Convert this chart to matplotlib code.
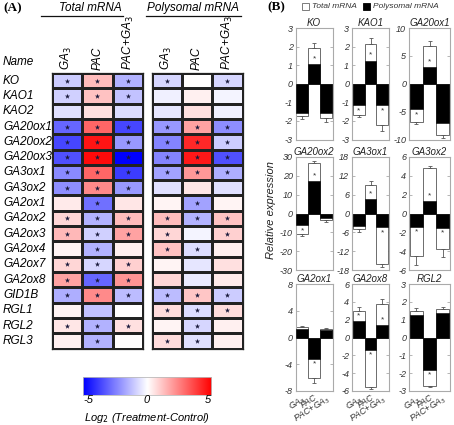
import matplotlib
matplotlib.use('Agg')
import matplotlib.pyplot as plt
from matplotlib.lines import Line2D
from matplotlib.patches import Rectangle
import numpy as np

# ---------------- data: heatmap (log2 treatment-control) ----------------
genes = ['KO', 'KAO1', 'KAO2', 'GA20ox1', 'GA20ox2', 'GA20ox3', 'GA3ox1', 'GA3ox2',
         'GA2ox1', 'GA2ox2', 'GA2ox3', 'GA2ox4', 'GA2ox7', 'GA2ox8', 'GID1B',
         'RGL1', 'RGL2', 'RGL3']
treatments = ['GA$_3$', 'PAC', 'PAC+GA$_3$']

total_log2 = [
    [-1.0, 1.3, -1.5], [-0.9, 1.2, -1.2], [-0.6, 0.6, -0.7], [-3.0, 3.0, -3.6],
    [-3.6, 4.6, -2.0], [-3.4, 4.8, -5.0], [-2.3, 3.0, -3.8], [-2.2, 2.3, -2.0],
    [0.4, -2.8, 0.5], [0.8, -1.5, 1.3], [1.4, -0.9, 1.8], [0.2, -1.5, 0.3],
    [0.8, -0.8, 0.9], [1.8, -3.0, 2.1], [-1.6, 2.3, -1.3], [0.2, -1.2, 0.0],
    [0.5, -1.5, 0.6], [0.3, -1.5, 0.0]]
poly_log2 = [
    [-0.8, 0.0, -0.8], [-0.3, 0.3, -0.2], [-0.5, 0.6, -0.3], [-2.0, 1.8, -2.2],
    [-2.4, 4.2, -1.0], [-2.4, 4.5, -3.4], [-1.8, 2.0, -1.6], [-0.6, 0.5, -0.6],
    [0.2, -1.8, 0.2], [1.3, -1.5, 1.2], [0.8, -0.2, 0.9], [1.2, -0.7, 0.3],
    [0.2, -0.5, 0.6], [0.8, -0.4, 0.4], [-1.3, 1.1, -1.0], [0.7, -0.7, 0.7],
    [0.2, -0.8, 0.3], [0.7, -0.6, 0.3]]
total_sig = [
    [1, 1, 1], [1, 1, 1], [0, 0, 0], [1, 1, 1], [1, 1, 1], [1, 1, 1], [1, 1, 1], [1, 1, 1],
    [0, 1, 0], [1, 1, 1], [1, 1, 1], [0, 1, 0], [1, 1, 1], [1, 1, 1], [1, 1, 1], [0, 0, 0],
    [1, 1, 1], [0, 1, 0]]
poly_sig = [
    [1, 0, 1], [0, 0, 0], [0, 0, 0], [1, 1, 1], [1, 1, 1], [1, 1, 1], [1, 1, 1], [0, 0, 0],
    [0, 1, 0], [1, 1, 1], [1, 0, 1], [1, 1, 0], [0, 0, 0], [0, 0, 0], [1, 1, 1], [1, 1, 1],
    [0, 1, 0], [1, 1, 0]]

# ---------------- data: bar plots (relative expression) ----------------
bar_genes = ['KO', 'KAO1', 'GA20ox1', 'GA20ox2', 'GA3ox1', 'GA3ox2', 'GA2ox1', 'GA2ox8', 'RGL2']
bar_total = [[-1.75, 1.95, -1.85], [-1.7, 2.15, -2.2], [-6.8, 6.8, -9.2],
             [-11.0, 27.0, -3.5], [-5.0, 9.0, -16.0], [-4.5, 4.8, -3.8],
             [1.5, -6.0, 1.3], [3.0, -5.6, 3.8], [1.5, -2.7, 1.6]]
bar_total_err = [[0.15, 0.25, 0.2], [0.1, 0.3, 0.35], [0.5, 0.8, 0.6],
                 [1.0, 1.0, 1.0], [0.8, 1.2, 1.0], [1.0, 0.25, 0.8],
                 [0.15, 0.8, 0.1], [0.4, 0.2, 0.5], [0.15, 0.1, 0.1]]
bar_poly = [[-1.6, 1.05, -1.6], [-1.15, 1.25, -1.15], [-4.6, 3.0, -7.0],
            [-6.0, 17.0, -2.5], [-4.0, 4.5, -4.3], [-1.4, 1.3, -1.5],
            [1.2, -3.2, 1.1], [1.8, -1.4, 1.4], [1.25, -1.8, 1.35]]
bar_sig = [[0, 1, 0], [1, 1, 1], [1, 1, 0], [1, 1, 0], [0, 1, 1], [1, 1, 1],
           [0, 1, 0], [1, 1, 1], [0, 1, 0]]
bar_ylim = [3, 3, 10, 30, 18, 6, 8, 6, 3]
bar_tickstep = [1, 1, 5, 10, 6, 2, 4, 2, 1]

# ---------------- figure ----------------
W, H = 454, 425
fig = plt.figure(figsize=(W / 100, H / 100), dpi=100)
plt.rcParams['font.family'] = ['Liberation Sans', 'DejaVu Sans']


def px(x0, y0, x1, y1):
    return [x0 / W, 1 - y1 / H, (x1 - x0) / W, (y1 - y0) / H]


fs = 8.5
groups = [(total_log2, total_sig, 51.5, 143.5), (poly_log2, poly_sig, 151.5, 242.5)]
for gi, (vals, sig, x0, x1) in enumerate(groups):
    ax = fig.add_axes(px(x0, 73, x1, 348.5))
    data = np.array(vals)
    ax.pcolormesh(np.arange(4), np.arange(len(genes) + 1), data, cmap='bwr',
                  vmin=-5, vmax=5, edgecolors='#222222', linewidth=0.9)
    ax.set_xlim(0, 3)
    ax.set_ylim(len(genes), 0)
    ax.set_xticks([])
    ax.set_yticks([])
    for s in ax.spines.values():
        s.set_color('#222222')
        s.set_linewidth(0.9)
    sg = np.array(sig)
    rr, cc = np.nonzero(sg)
    ax.scatter(cc + 0.5, rr + 0.5, marker='*', s=16, color='#1a1a3c', linewidths=0, zorder=3)
    for j, t in enumerate(treatments):
        ax.text(j + 0.5, -0.2, t, rotation=90, ha='center', va='bottom',
                fontsize=fs, style='italic', clip_on=False)
    if gi == 0:
        ux = (x1 - x0) / 3.0
        for i, g in enumerate(genes):
            ax.text(-(x0 - 3) / ux, i + 0.5, g, ha='left', va='center', fontsize=fs,
                    style='italic', clip_on=False)
        ax.text(-(x0 - 3) / ux, -0.75, 'Name', ha='left', va='center', fontsize=fs,
                style='italic', clip_on=False)

fig.text(90 / W, 1 - 8 / H, 'Total mRNA', ha='center', va='center', fontsize=fs, style='italic')
fig.text(193 / W, 1 - 8 / H, 'Polysomal mRNA', ha='center', va='center', fontsize=fs, style='italic')
fig.add_artist(Line2D([41 / W, 123 / W], [1 - 16 / H] * 2, color='#111111', lw=0.9))
fig.add_artist(Line2D([146 / W, 241 / W], [1 - 16 / H] * 2, color='#111111', lw=0.9))
fig.text(3 / W, 1 - 8 / H, '(A)', ha='left', va='center', fontsize=9.5, fontweight='bold',
         family='Liberation Serif')

# colorbar
cax = fig.add_axes(px(83, 377, 211, 395))
grad = np.linspace(-5, 5, 256).reshape(1, -1)
cax.imshow(grad, aspect='auto', cmap='bwr', vmin=-5, vmax=5, extent=[-5, 5, 0, 1])
cax.set_xticks([])
cax.set_yticks([])
for s in cax.spines.values():
    s.set_color('#bbbbbb')
    s.set_linewidth(0.6)
for xx, lab, ha in [(0.0, '-5', 'left'), (0.5, '0', 'center'), (1.0, '5', 'right')]:
    cax.text(xx, -0.02, lab, transform=cax.transAxes, ha=ha, va='top', fontsize=8,
             style='italic')
fig.text(147 / W, 1 - 418 / H, 'Log$_2$ (Treatment-Control)', ha='center', va='center',
         fontsize=8, style='italic')

# ---------------- bar plots ----------------
cols = [(295.5, 333), (352, 389), (409, 450)]
rows = [(28, 139.5), (157, 270), (284, 391)]
tcol = '#333333'
for k, g in enumerate(bar_genes):
    r, c = divmod(k, 3)
    ax = fig.add_axes(px(cols[c][0], rows[r][0], cols[c][1], rows[r][1]))
    x = np.arange(3)
    tot = np.array(bar_total[k])
    err = np.array(bar_total_err[k])
    pol = np.array(bar_poly[k])
    lo = np.where(tot < 0, err, 0)
    hi = np.where(tot > 0, err, 0)
    ax.bar(x, tot, width=1.0, color='white', edgecolor='#555555', linewidth=0.6, zorder=2)
    ax.errorbar(x, tot, yerr=[lo, hi], fmt='none', ecolor='#555555', elinewidth=0.6,
                capsize=1.5, capthick=0.6, zorder=2)
    ax.bar(x, pol, width=1.0, color='black', edgecolor='black', linewidth=0.4, zorder=3)
    lim = bar_ylim[k]
    for i in range(3):
        if bar_sig[k][i]:
            ax.text(i, pol[i] + np.sign(pol[i]) * 0.1 * lim, '*', ha='center', va='center',
                    fontsize=6, color='#333333', zorder=4)
    ax.set_xlim(-0.55, 2.55)
    ax.set_ylim(-lim, lim)
    ax.set_yticks(np.arange(-lim, lim + 0.001, bar_tickstep[k]))
    ax.set_yticklabels(['%d' % v for v in np.arange(-lim, lim + 0.001, bar_tickstep[k])],
                       fontsize=6.5, style='italic', color=tcol)
    ax.tick_params(axis='y', direction='in', length=2, width=0.5, color='#999999',
                   right=True, pad=2)
    if r == 2:
        ax.set_xticks(x)
        ax.set_xticklabels(treatments, rotation=32, ha='right', rotation_mode='anchor',
                           fontsize=6.3, style='italic', color=tcol)
        ax.tick_params(axis='x', length=0, pad=1)
    else:
        ax.set_xticks([])
    for s in ax.spines.values():
        s.set_color('#aaaaaa')
        s.set_linewidth(0.8)
    ax.set_title(g, fontsize=7, style='italic', pad=1.5, color='#222222')

fig.text(271 / W, 1 - 210 / H, 'Relative expression', rotation=90, ha='center', va='center',
         fontsize=8, style='italic', color='#222222')
fig.text(267 / W, 1 - 7 / H, '(B)', ha='left', va='center', fontsize=9.5, fontweight='bold',
         family='Liberation Serif')
fig.add_artist(Rectangle((302 / W, 1 - 10 / H), 7 / W, 7 / H, facecolor='white',
                         edgecolor='#666666', lw=0.6))
fig.text(312 / W, 1 - 6.5 / H, 'Total mRNA', ha='left', va='center', fontsize=6,
         style='italic', color='#333333')
fig.add_artist(Rectangle((363 / W, 1 - 10 / H), 7 / W, 7 / H, facecolor='black',
                         edgecolor='black', lw=0.6))
fig.text(373 / W, 1 - 6.5 / H, 'Polysomal mRNA', ha='left', va='center', fontsize=6,
         style='italic', color='#333333')

fig.savefig('out.png', dpi=100)
